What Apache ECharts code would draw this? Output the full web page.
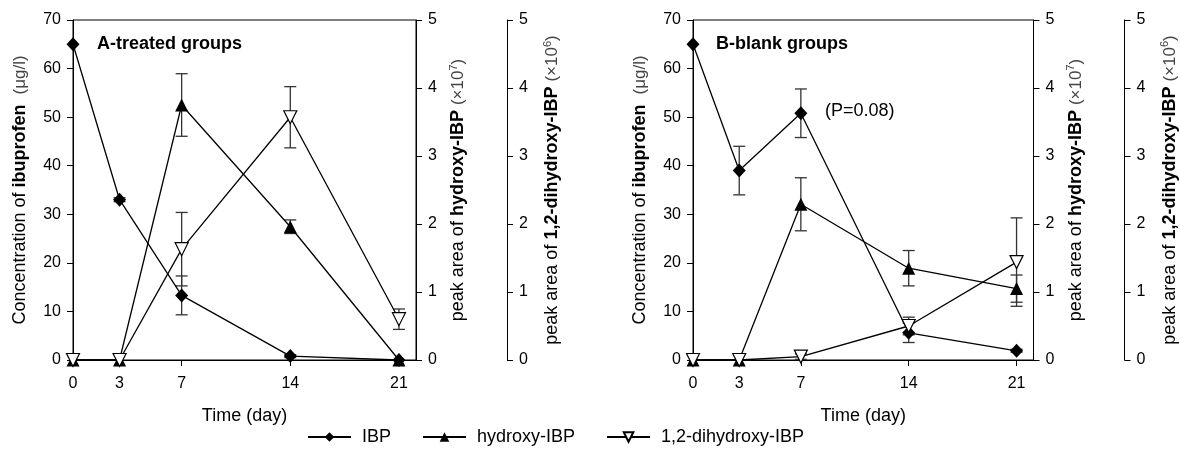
<!DOCTYPE html>
<html>
<head>
<meta charset="utf-8">
<script src="https://cdn.jsdelivr.net/npm/echarts@6/dist/echarts.min.js"></script>
<style>
  html, body { margin: 0; padding: 0; background: #fff; }
  #chart { width: 1180px; height: 451px; }
</style>
</head>
<body>
<div id="chart"></div>
<script>
// sampling days
var days = [0, 3, 7, 14, 21];

// A-treated groups
var aIBP = [65, 33, 13.3, 0.8, 0];          // ug/l
var aIBPsd = [0, 0.4, 4, 0.3, 0];
var aHydroxy = [0, 0, 3.75, 1.96, 0];        // x10^7
var aHydroxySd = [0, 0, 0.46, 0.1, 0];
var aDihydroxy = [0, 0, 1.63, 3.57, 0.6];    // x10^6
var aDihydroxySd = [0, 0, 0.54, 0.45, 0.15];

// B-blank groups
var bIBP = [65, 39, 50.8, 5.6, 1.9];
var bIBPsd = [0, 5, 5, 2, 0.3];
var bHydroxy = [0, 0, 2.29, 1.35, 1.05];
var bHydroxySd = [0, 0, 0.39, 0.26, 0.2];
var bDihydroxy = [0, 0, 0.05, 0.5, 1.44];
var bDihydroxySd = [0, 0, 0.04, 0.13, 0.65];

var names = ['IBP', 'hydroxy-IBP', '1,2-dihydroxy-IBP'];
var font = 'Liberation Sans, Arial, sans-serif';

function pairs(vals) {
    return days.map(function (d, i) { return [d, vals[i]]; });
}
function bars(vals, sd) {
    var out = [];
    days.forEach(function (d, i) {
        if (sd[i] > 0) out.push([d, vals[i] - sd[i], vals[i] + sd[i]]);
    });
    return out;
}

function errRender(params, api) {
    var x = api.value(0);
    var lo = api.coord([x, api.value(1)]);
    var hi = api.coord([x, api.value(2)]);
    var w = 6;
    var st = { stroke: '#333', lineWidth: 1.3 };
    return {
        type: 'group',
        children: [
            { type: 'line', shape: { x1: hi[0], y1: hi[1], x2: lo[0], y2: lo[1] }, style: st },
            { type: 'line', shape: { x1: hi[0] - w, y1: hi[1], x2: hi[0] + w, y2: hi[1] }, style: st },
            { type: 'line', shape: { x1: lo[0] - w, y1: lo[1], x2: lo[0] + w, y2: lo[1] }, style: st }
        ]
    };
}

var styles = [
    { symbol: 'diamond', symbolSize: [13, 14], symbolRotate: 0, itemStyle: { color: '#000' } },
    { symbol: 'triangle', symbolSize: 13, symbolRotate: 0, itemStyle: { color: '#000' } },
    { symbol: 'triangle', symbolSize: 13, symbolRotate: 180, itemStyle: { color: '#fff', borderColor: '#000', borderWidth: 1.2 } }
];

function panel(gi, sets) {
    var series = [];
    sets.forEach(function (s, k) {
        series.push({
            type: 'custom',
            xAxisIndex: gi, yAxisIndex: gi * 3 + k,
            renderItem: errRender,
            encode: { x: 0, y: [1, 2] },
            data: bars(s[0], s[1]),
            z: 2, silent: true
        });
    });
    sets.forEach(function (s, k) {
        series.push({
            name: names[k],
            type: 'line',
            xAxisIndex: gi, yAxisIndex: gi * 3 + k,
            data: pairs(s[0]),
            symbol: styles[k].symbol,
            symbolSize: styles[k].symbolSize,
            symbolRotate: styles[k].symbolRotate,
            itemStyle: styles[k].itemStyle,
            lineStyle: { color: '#000', width: 1.3 },
            z: 3 + k
        });
    });
    return series;
}

var axisLine = { show: true, lineStyle: { color: '#000', width: 1 } };
var tickStyle = { show: true, length: 6, lineStyle: { color: '#000' } };
var labelStyle = { color: '#000', fontSize: 16, fontFamily: font, margin: 12 };

function xAxis(gi) {
    return {
        type: 'value', gridIndex: gi, min: 0, max: 22.1,
        name: 'Time (day)', nameLocation: 'middle', nameGap: 47,
        nameTextStyle: { color: '#000', fontSize: 18, fontFamily: font },
        axisLine: axisLine,
        axisTick: { show: true, length: 6, lineStyle: { color: '#000' }, customValues: days },
        axisLabel: { color: '#000', fontSize: 16, fontFamily: font, margin: 16, customValues: days },
        splitLine: { show: false }
    };
}

function yAxes(gi) {
    var rich = {
        b: { fontWeight: 'bold', fontSize: 18, fontFamily: font, color: '#000' },
        s: { fontSize: 17, fontFamily: font, color: '#444' },
        sup: { fontSize: 11, fontFamily: font, color: '#444', padding: [0, 0, 10, 0] }
    };
    var nameStyle = { color: '#000', fontSize: 18, fontFamily: font, rich: rich };
    return [
        {
            type: 'value', gridIndex: gi, position: 'left', min: 0, max: 70, interval: 10,
            name: 'Concentration of {b|ibuprofen}  {s|(μg/l)}', nameLocation: 'middle', nameGap: 44, nameRotate: 90,
            nameTextStyle: nameStyle,
            axisLine: axisLine, axisTick: tickStyle, axisLabel: labelStyle, splitLine: { show: false }
        },
        {
            type: 'value', gridIndex: gi, position: 'right', min: 0, max: 5, interval: 1,
            name: 'peak area of {b|hydroxy-IBP} {s|(×10}{sup|7}{s|)}', nameLocation: 'middle', nameGap: 32, nameRotate: 90,
            nameTextStyle: nameStyle,
            axisLine: axisLine, axisTick: tickStyle, axisLabel: labelStyle, splitLine: { show: false }
        },
        {
            type: 'value', gridIndex: gi, position: 'right', offset: 91, min: 0, max: 5, interval: 1,
            name: 'peak area of {b|1,2-dihydroxy-IBP} {s|(×10}{sup|6}{s|)}', nameLocation: 'middle', nameGap: 35, nameRotate: 90,
            nameTextStyle: nameStyle,
            axisLine: axisLine, axisTick: tickStyle, axisLabel: labelStyle, splitLine: { show: false }
        }
    ];
}

var option = {
    backgroundColor: '#fff',
    animation: false,
    title: [
        { text: 'A-treated groups', left: 97, top: 35, padding: 0, textStyle: { color: '#000', fontSize: 18, fontWeight: 'bold', fontFamily: font } },
        { text: 'B-blank groups', left: 716, top: 35, padding: 0, textStyle: { color: '#000', fontSize: 18, fontWeight: 'bold', fontFamily: font } }
    ],
    graphic: [
        { type: 'text', left: 825, top: 102, style: { text: '(P=0.08)', fill: '#000', fontSize: 18, fontFamily: font } }
    ],
    legend: {
        data: names, left: 307, top: 428, padding: 0, itemWidth: 43, itemHeight: 12, itemGap: 31,
        textStyle: { color: '#000', fontSize: 18, fontFamily: font, padding: [0, 0, 0, 6] }
    },
    grid: [
        { left: 73, top: 20, width: 343, height: 340, show: true, borderColor: '#000', borderWidth: 1, backgroundColor: 'transparent' },
        { left: 693, top: 20, width: 344, height: 340, show: true, borderColor: '#000', borderWidth: 1, backgroundColor: 'transparent' }
    ],
    xAxis: [xAxis(0), xAxis(1)],
    yAxis: yAxes(0).concat(yAxes(1)),
    series: panel(0, [[aIBP, aIBPsd], [aHydroxy, aHydroxySd], [aDihydroxy, aDihydroxySd]])
        .concat(panel(1, [[bIBP, bIBPsd], [bHydroxy, bHydroxySd], [bDihydroxy, bDihydroxySd]]))
};

var chart = echarts.init(document.getElementById('chart'));
chart.setOption(option);
</script>
</body>
</html>
